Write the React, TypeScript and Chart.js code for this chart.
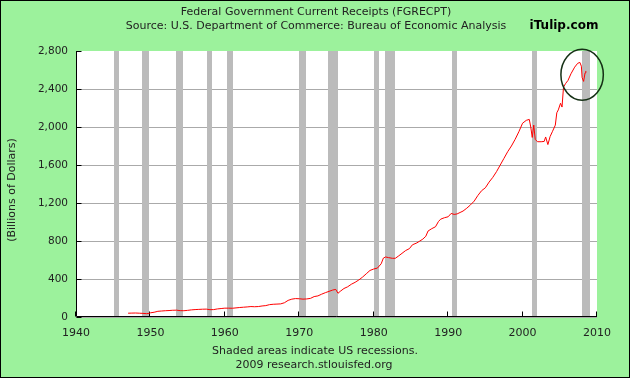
import React, { useEffect, useRef } from "react";
import { Chart, registerables } from "chart.js";

Chart.register(...registerables);

// ---- Data ----
const years: number[] = [
  1947.0, 1947.5, 1948.0, 1948.5, 1949.0, 1949.5, 1949.8, 1950.0, 1950.5, 1951.0,
  1951.5, 1952.0, 1952.5, 1953.0, 1953.5, 1954.0, 1954.5, 1955.0, 1955.5, 1956.0,
  1956.5, 1957.0, 1957.5, 1958.0, 1958.5, 1959.0, 1959.5, 1960.0, 1960.5, 1961.0,
  1961.5, 1962.0, 1962.5, 1963.0, 1963.5, 1964.0, 1964.5, 1965.0, 1965.5, 1966.0,
  1966.5, 1967.0, 1967.5, 1968.0, 1968.5, 1969.0, 1969.5, 1970.0, 1970.5, 1971.0,
  1971.5, 1972.0, 1972.5, 1973.0, 1973.5, 1974.0, 1974.5, 1974.9, 1975.2, 1975.5,
  1976.0, 1976.5, 1977.0, 1977.5, 1978.0, 1978.5, 1979.0, 1979.5, 1980.0, 1980.5,
  1981.0, 1981.3, 1981.6, 1982.0, 1982.5, 1982.9, 1983.3, 1983.8, 1984.3, 1984.8,
  1985.2, 1985.8, 1986.2, 1986.6, 1987.0, 1987.3, 1987.8, 1988.3, 1988.7, 1989.0,
  1989.5, 1990.0, 1990.4, 1990.8, 1991.2, 1991.6, 1992.0, 1992.5, 1993.0, 1993.5,
  1994.0, 1994.5, 1995.0, 1995.5, 1996.0, 1996.5, 1997.0, 1997.5, 1998.0, 1998.5,
  1999.0, 1999.5, 2000.0, 2000.5, 2000.9, 2001.1, 2001.3, 2001.5, 2001.7, 2002.0,
  2002.5, 2002.9, 2003.1, 2003.4, 2003.7, 2004.0, 2004.4, 2004.6, 2004.8, 2005.1,
  2005.3, 2005.5, 2005.8, 2006.1, 2006.5, 2007.0, 2007.4, 2007.7, 2007.9, 2008.0,
  2008.2, 2008.4, 2008.5,
];
const receipts: number[] = [
  40, 41, 42, 40, 38, 35, 38, 44, 50, 60,
  63, 66, 68, 71, 72, 67, 66, 70, 75, 78,
  80, 82, 83, 77, 78, 85, 89, 93, 93, 92,
  96, 100, 103, 106, 110, 108, 110, 116, 120, 130,
  134, 136, 138, 150, 175, 188, 194, 192, 188, 190,
  196, 215, 222, 240, 256, 270, 284, 290, 250, 270,
  300, 318, 345, 365, 390, 420, 455, 490, 505, 515,
  560, 620, 632, 625, 618, 618, 640, 670, 700, 720,
  760, 780, 800, 820, 850, 905, 930, 950, 1005, 1030,
  1045, 1055, 1090, 1080, 1085, 1100, 1115, 1145, 1180, 1220,
  1280, 1330, 1360, 1420, 1470, 1530, 1600, 1670, 1740, 1800,
  1870, 1950, 2040, 2070, 2080, 2000, 1890, 2020, 1870, 1845,
  1845, 1848, 1895, 1815, 1900, 1950, 2020, 2150, 2180, 2250,
  2210, 2420, 2460, 2490, 2560, 2630, 2670, 2680, 2640, 2520,
  2480, 2570, 2590,
];

// US recessions (start, end) in decimal years
const recessionStarts: number[] = [1945.1, 1948.85, 1953.5, 1957.6, 1960.3, 1969.95, 1973.85, 1980.0, 1981.5, 1990.5, 2001.2, 2007.92];
const recessionEnds: number[] = [1945.8, 1949.8, 1954.4, 1958.3, 1961.15, 1970.9, 1975.2, 1980.55, 1982.9, 1991.2, 2001.9, 2009.05];

const xTicks: number[] = [1940, 1950, 1960, 1970, 1980, 1990, 2000, 2010];
const yTicks: number[] = [0, 400, 800, 1200, 1600, 2000, 2400, 2800];

// Highlight ellipse annotation (data units)
const circleCenter: number[] = [2008.0, 2550];
const circleRadius: number[] = [2.85, 268];

const titleText = "Federal Government Current Receipts (FGRECPT)";
const subtitleText = "Source: U.S. Department of Commerce: Bureau of Economic Analysis";
const brandText = "iTulip.com";
const yTitleText = "(Billions of Dollars)";
const footText1 = "Shaded areas indicate US recessions.";
const footText2 = "2009 research.stlouisfed.org";

const GREEN = "#9cf29c";
const TEXT = "#222222";
const FONT = "DejaVu Sans";

export default function App() {
  const ref = useRef<HTMLCanvasElement | null>(null);

  useEffect(() => {
    if (!ref.current) return;
    const points = years.map((x, i) => ({ x, y: receipts[i] }));

    const decor = {
      id: "decor",
      beforeDraw(chart: any) {
        const { ctx, chartArea: a, width, height } = chart;
        ctx.save();
        ctx.fillStyle = GREEN;
        ctx.fillRect(0, 0, width, height);
        ctx.fillStyle = "#ffffff";
        ctx.fillRect(a.left, a.top, a.right - a.left, a.bottom - a.top);
        ctx.restore();
      },
      beforeDatasetsDraw(chart: any) {
        const { ctx, chartArea: a, scales } = chart;
        const xs = scales.x;
        const ys = scales.y;
        ctx.save();
        ctx.fillStyle = "#bbbbbb";
        recessionStarts.forEach((s, i) => {
          const x0 = Math.round(xs.getPixelForValue(s));
          const x1 = Math.round(xs.getPixelForValue(Math.min(recessionEnds[i], 2010)));
          ctx.fillRect(x0, a.top, Math.max(x1 - x0, 5), a.bottom - a.top);
        });
        // axes
        ctx.strokeStyle = "#000000";
        ctx.lineWidth = 1;
        const L = Math.round(a.left) + 0.5;
        const B = Math.round(a.bottom) - 0.5;
        ctx.beginPath();
        ctx.moveTo(L, a.top);
        ctx.lineTo(L, B);
        ctx.lineTo(a.right, B);
        ctx.stroke();
        ctx.beginPath();
        xTicks.forEach((t) => {
          const x = Math.round(xs.getPixelForValue(t)) - 0.5;
          ctx.moveTo(x, B);
          ctx.lineTo(x, B - 5);
        });
        yTicks.forEach((t) => {
          const y = Math.round(ys.getPixelForValue(t)) + 0.5;
          ctx.moveTo(L, y);
          ctx.lineTo(L + 5, y);
        });
        ctx.stroke();
        ctx.restore();
      },
      afterDatasetsDraw(chart: any) {
        const { ctx, scales } = chart;
        const xs = scales.x;
        const ys = scales.y;
        const cx = xs.getPixelForValue(circleCenter[0]);
        const cy = ys.getPixelForValue(circleCenter[1]);
        const rx = xs.getPixelForValue(circleCenter[0] + circleRadius[0]) - cx;
        const ry = cy - ys.getPixelForValue(circleCenter[1] + circleRadius[1]);
        ctx.save();
        ctx.strokeStyle = "#153015";
        ctx.lineWidth = 1.5;
        ctx.beginPath();
        ctx.ellipse(cx, cy, rx, ry, 0, 0, Math.PI * 2);
        ctx.stroke();
        ctx.restore();
      },
      afterDraw(chart: any) {
        const { ctx, width, height } = chart;
        ctx.save();
        ctx.fillStyle = TEXT;
        ctx.textBaseline = "middle";
        ctx.textAlign = "center";
        ctx.font = `11px "${FONT}"`;
        ctx.fillText(titleText, 316, 12, 274);
        ctx.fillText(subtitleText, 316, 26, 385);
        ctx.fillText(footText1, 315, 351, 212);
        ctx.fillText(footText2, 314, 365, 157);
        ctx.fillStyle = "#000000";
        ctx.font = `bold 12px "${FONT}"`;
        ctx.fillText(brandText, 564, 26, 71);
        ctx.fillStyle = TEXT;
        ctx.font = `11px "${FONT}"`;
        ctx.translate(12, 190);
        ctx.rotate(-Math.PI / 2);
        ctx.fillText(yTitleText, 0, 0, 106);
        ctx.restore();
        ctx.save();
        ctx.strokeStyle = "#000000";
        ctx.lineWidth = 1;
        ctx.strokeRect(0.5, 0.5, width - 1, height - 1);
        ctx.restore();
      },
    };

    const chart = new Chart(ref.current, {
      type: "line",
      data: {
        datasets: [
          {
            data: points,
            borderColor: "#ff0000",
            borderWidth: 1,
            pointRadius: 0,
            fill: false,
            tension: 0,
          },
        ],
      },
      options: {
        animation: false,
        responsive: false,
        devicePixelRatio: 1,
        layout: { padding: { top: 51, right: 33, left: 0, bottom: 0 } },
        plugins: { legend: { display: false }, tooltip: { enabled: false }, title: { display: false } },
        scales: {
          x: {
            type: "linear",
            min: 1940,
            max: 2010,
            afterFit: (s: any) => {
              s.height = 61;
            },
            afterBuildTicks: (s: any) => {
              s.ticks = xTicks.map((v) => ({ value: v }));
            },
            grid: { display: false, drawTicks: false },
            border: { display: false },
            ticks: {
              padding: 10,
              maxRotation: 0,
              autoSkip: false,
              color: TEXT,
              font: { family: FONT, size: 11 },
              callback: (v: any) => String(v),
            },
          },
          y: {
            min: 0,
            max: 2800,
            afterFit: (s: any) => {
              s.width = 76;
            },
            afterBuildTicks: (s: any) => {
              s.ticks = yTicks.map((v) => ({ value: v }));
            },
            grid: {
              color: (c: any) => (c.tick && c.tick.value === 2800 ? "rgba(0,0,0,0)" : "#aaaaaa"),
              lineWidth: 1,
              drawTicks: false,
            },
            border: { display: false },
            ticks: {
              padding: 8,
              color: TEXT,
              font: { family: FONT, size: 10.5 },
              callback: (v: any) => Number(v).toLocaleString("en-US"),
            },
          },
        },
      },
      plugins: [decor],
    } as any);

    return () => chart.destroy();
  }, []);

  return (
    <div style={{ position: "absolute", left: 0, top: 0, width: 630, height: 378 }}>
      <canvas ref={ref} width={630} height={378} style={{ width: 630, height: 378, display: "block" }} />
    </div>
  );
}
